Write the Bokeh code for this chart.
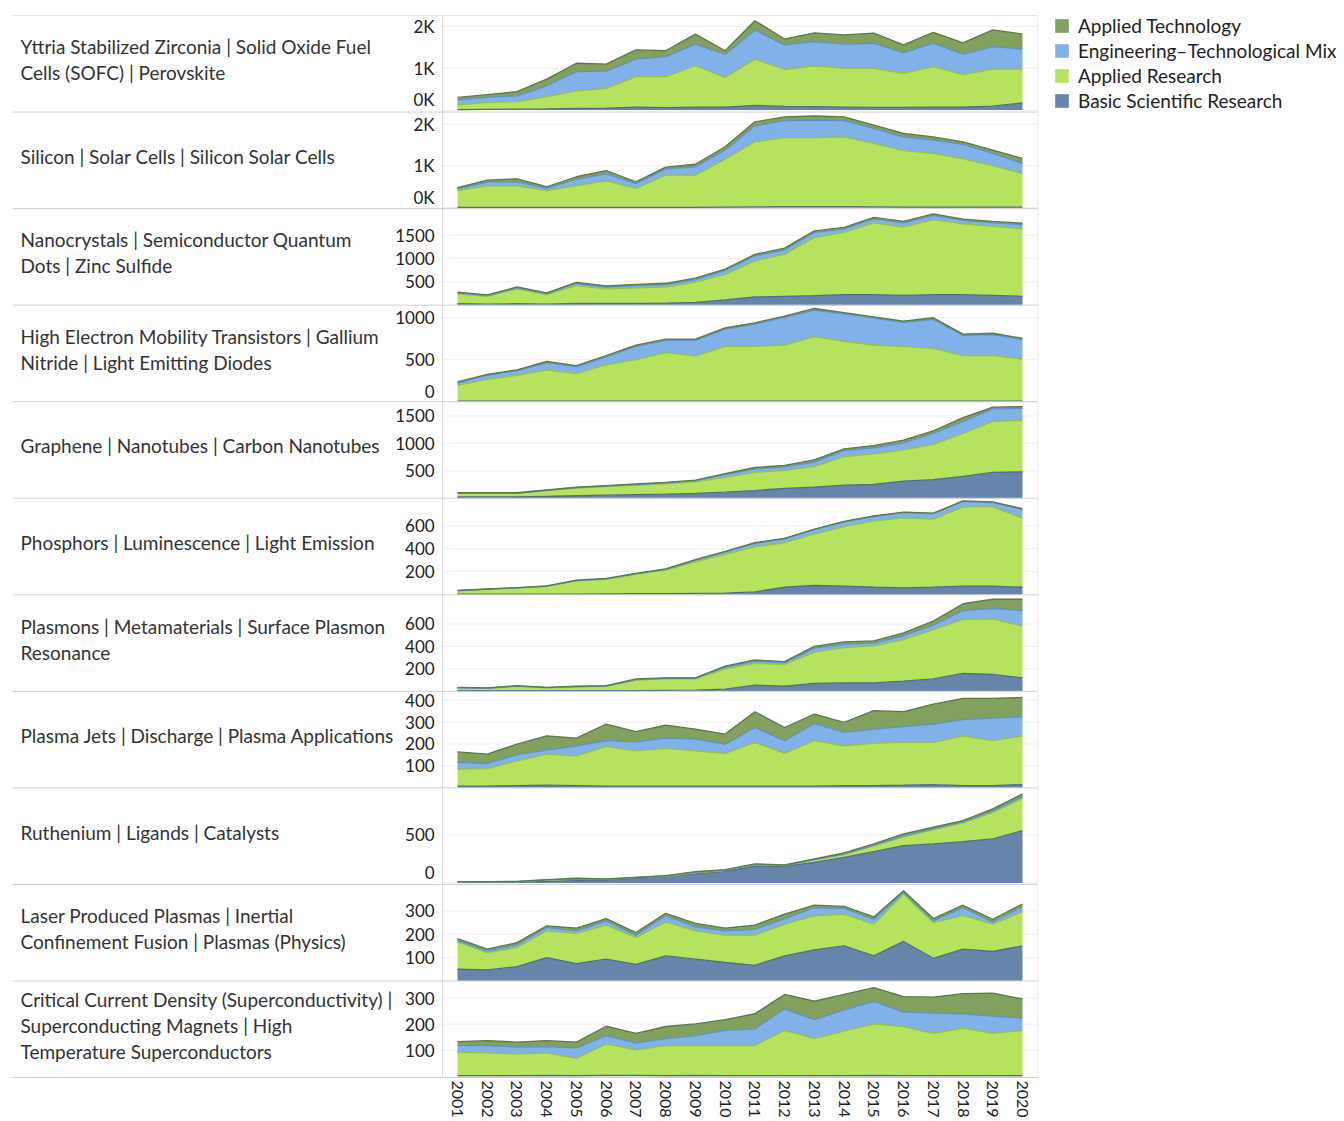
from bokeh.plotting import figure
from bokeh.layouts import row
from bokeh.models import (ColumnDataSource, Range1d, LinearAxis, FixedTicker, Label, Span,
                          Legend, LegendItem)
from bokeh.embed import file_html
from bokeh.resources import INLINE

# ---------------- data ----------------
YEARS = [2001, 2002, 2003, 2004, 2005, 2006, 2007, 2008, 2009, 2010,
         2011, 2012, 2013, 2014, 2015, 2016, 2017, 2018, 2019, 2020]

TOPICS = [
    "Yttria Stabilized Zirconia | Solid Oxide Fuel\nCells (SOFC) | Perovskite",
    "Silicon | Solar Cells | Silicon Solar Cells",
    "Nanocrystals | Semiconductor Quantum\nDots | Zinc Sulfide",
    "High Electron Mobility Transistors | Gallium\nNitride | Light Emitting Diodes",
    "Graphene | Nanotubes | Carbon Nanotubes",
    "Phosphors | Luminescence | Light Emission",
    "Plasmons | Metamaterials | Surface Plasmon\nResonance",
    "Plasma Jets | Discharge | Plasma Applications",
    "Ruthenium | Ligands | Catalysts",
    "Laser Produced Plasmas | Inertial\nConfinement Fusion | Plasmas (Physics)",
    "Critical Current Density (Superconductivity) |\nSuperconducting Magnets | High\nTemperature Superconductors",
]

SERIES = ["Basic Scientific Research", "Applied Research",
          "Engineering\u2013Technological Mix", "Applied Technology"]

yttria_basic = [10, 15, 20, 25, 35, 45, 70, 55, 65, 65, 110, 85, 80, 70, 60, 60, 65, 65, 90, 170]
yttria_research = [110, 165, 180, 295, 425, 475, 730, 745, 995, 715, 1110, 885, 980, 930, 940, 820, 975, 785, 890, 810]
yttria_mix = [120, 120, 140, 260, 460, 410, 420, 480, 520, 550, 700, 590, 580, 580, 600, 490, 560, 490, 540, 480]
yttria_tech = [60, 70, 100, 160, 200, 170, 220, 140, 240, 90, 220, 140, 210, 220, 240, 190, 260, 270, 400, 360]

silicon_basic = [5, 5, 5, 5, 5, 5, 5, 5, 5, 10, 15, 20, 20, 20, 15, 10, 10, 10, 10, 10]
silicon_research = [405, 515, 515, 405, 525, 635, 455, 775, 775, 1150, 1565, 1660, 1660, 1680, 1525, 1360, 1290, 1160, 1000, 810]
silicon_mix = [40, 90, 100, 50, 150, 170, 120, 150, 200, 220, 380, 410, 420, 390, 360, 330, 320, 350, 290, 240]
silicon_tech = [30, 50, 70, 40, 60, 80, 40, 40, 60, 80, 100, 90, 100, 90, 80, 80, 80, 60, 80, 120]

nano_basic = [30, 20, 30, 20, 35, 35, 40, 45, 60, 115, 175, 190, 205, 225, 225, 210, 225, 225, 210, 190]
nano_research = [215, 170, 320, 205, 385, 315, 330, 345, 435, 545, 775, 905, 1250, 1340, 1545, 1465, 1615, 1520, 1485, 1450]
nano_mix = [15, 15, 20, 20, 45, 40, 50, 50, 55, 85, 110, 95, 110, 75, 85, 95, 90, 75, 75, 90]
nano_tech = [20, 15, 20, 20, 25, 25, 25, 30, 30, 30, 30, 35, 30, 30, 30, 30, 30, 30, 30, 30]

hemt_basic = [5, 5, 5, 5, 5, 5, 5, 5, 5, 5, 5, 5, 5, 5, 5, 5, 5, 5, 5, 5]
hemt_research = [190, 260, 310, 375, 330, 435, 495, 580, 540, 655, 655, 670, 770, 715, 670, 650, 630, 545, 545, 505]
hemt_mix = [30, 50, 55, 85, 80, 95, 160, 145, 185, 205, 265, 330, 315, 325, 320, 290, 345, 240, 250, 230]
hemt_tech = [10, 10, 10, 15, 15, 15, 15, 15, 15, 15, 15, 15, 20, 15, 15, 15, 20, 15, 15, 15]

graphene_basic = [25, 25, 25, 35, 45, 55, 65, 75, 90, 110, 140, 180, 200, 240, 250, 310, 340, 400, 470, 480]
graphene_research = [65, 65, 65, 105, 140, 155, 170, 185, 210, 270, 330, 330, 380, 520, 560, 570, 640, 780, 930, 940]
graphene_mix = [5, 5, 5, 5, 10, 15, 15, 20, 20, 50, 60, 60, 80, 110, 110, 130, 200, 220, 230, 220]
graphene_tech = [5, 5, 5, 5, 5, 5, 10, 10, 10, 20, 30, 30, 40, 30, 40, 50, 50, 70, 30, 30]

phosphor_basic = [5, 5, 5, 5, 5, 8, 10, 10, 12, 15, 25, 65, 80, 75, 65, 60, 65, 75, 75, 65]
phosphor_research = [30, 42, 53, 67, 115, 126, 166, 203, 273, 335, 390, 385, 445, 515, 575, 605, 590, 685, 685, 600]
phosphor_mix = [1, 1, 2, 2, 3, 4, 6, 7, 13, 21, 30, 33, 38, 40, 37, 45, 46, 47, 38, 74]
phosphor_tech = [2, 2, 2, 2, 3, 3, 3, 4, 5, 5, 5, 5, 5, 5, 5, 5, 5, 5, 5, 5]

plasmon_basic = [5, 5, 5, 5, 5, 5, 5, 8, 10, 20, 55, 45, 70, 75, 75, 90, 110, 160, 150, 120]
plasmon_research = [25, 21, 40, 26, 35, 40, 95, 102, 100, 180, 195, 195, 280, 315, 330, 370, 440, 480, 495, 460]
plasmon_mix = [2, 2, 2, 2, 2, 2, 5, 5, 5, 15, 18, 15, 35, 30, 25, 35, 40, 80, 95, 140]
plasmon_tech = [3, 2, 3, 2, 3, 3, 5, 5, 5, 10, 12, 10, 15, 20, 20, 25, 35, 60, 80, 100]

jets_basic = [8, 8, 10, 12, 10, 8, 8, 8, 8, 8, 8, 8, 8, 10, 10, 12, 15, 10, 10, 15]
jets_research = [77, 80, 113, 142, 136, 181, 161, 172, 161, 149, 199, 150, 207, 182, 194, 195, 192, 227, 205, 222]
jets_mix = [31, 23, 28, 18, 46, 26, 41, 47, 53, 42, 68, 57, 79, 61, 64, 72, 84, 74, 103, 87]
jets_tech = [48, 43, 48, 65, 35, 76, 46, 59, 46, 46, 72, 60, 42, 45, 84, 68, 91, 97, 90, 88]

ruthenium_basic = [7, 7, 8, 17, 24, 31, 49, 66, 94, 122, 174, 174, 215, 267, 326, 389, 406, 431, 458, 545]
ruthenium_research = [3, 5, 6, 13, 16, 6, 6, 4, 11, 8, 16, 6, 25, 28, 59, 91, 149, 194, 277, 335]
ruthenium_mix = [1, 1, 1, 2, 3, 3, 2, 3, 5, 3, 3, 3, 3, 5, 8, 10, 10, 10, 15, 20]
ruthenium_tech = [3, 2, 2, 3, 6, 2, 2, 3, 8, 6, 5, 5, 7, 12, 13, 20, 15, 14, 21, 27]

laser_basic = [50, 47, 61, 100, 74, 93, 71, 107, 93, 79, 67, 107, 133, 150, 107, 169, 97, 136, 126, 150]
laser_research = [117, 74, 82, 114, 130, 146, 115, 146, 121, 117, 129, 136, 146, 136, 136, 202, 153, 145, 117, 146]
laser_mix = [7, 8, 11, 15, 10, 18, 10, 26, 17, 18, 25, 24, 35, 24, 21, 8, 7, 33, 10, 21]
laser_tech = [7, 7, 10, 7, 12, 10, 11, 10, 15, 12, 18, 19, 10, 9, 10, 7, 10, 10, 11, 12]

supercond_basic = [2, 2, 2, 3, 2, 3, 3, 2, 3, 2, 2, 2, 2, 2, 3, 2, 2, 2, 2, 2]
supercond_research = [90, 88, 84, 87, 67, 121, 98, 116, 115, 116, 116, 174, 142, 171, 198, 189, 163, 183, 163, 174]
supercond_mix = [26, 28, 26, 24, 40, 32, 27, 26, 38, 58, 64, 83, 73, 82, 87, 55, 77, 55, 66, 47]
supercond_tech = [15, 19, 19, 23, 22, 36, 37, 47, 45, 41, 58, 55, 71, 59, 52, 60, 62, 77, 88, 74]

ROWS = [
    (yttria_basic, yttria_research, yttria_mix, yttria_tech),
    (silicon_basic, silicon_research, silicon_mix, silicon_tech),
    (nano_basic, nano_research, nano_mix, nano_tech),
    (hemt_basic, hemt_research, hemt_mix, hemt_tech),
    (graphene_basic, graphene_research, graphene_mix, graphene_tech),
    (phosphor_basic, phosphor_research, phosphor_mix, phosphor_tech),
    (plasmon_basic, plasmon_research, plasmon_mix, plasmon_tech),
    (jets_basic, jets_research, jets_mix, jets_tech),
    (ruthenium_basic, ruthenium_research, ruthenium_mix, ruthenium_tech),
    (laser_basic, laser_research, laser_mix, laser_tech),
    (supercond_basic, supercond_research, supercond_mix, supercond_tech),
]

# axis extents and ticks of each row
Y_MIN = [-50, -25, 0, 0, 0, 0, 0, 0, -15, 0, -5]
Y_MAX = [2265, 2295, 2075, 1150, 1760, 835, 860, 440, 990, 413, 366]
TICKS = [[0, 1000, 2000], [0, 1000, 2000], [500, 1000, 1500], [0, 500, 1000],
         [500, 1000, 1500], [200, 400, 600], [200, 400, 600], [100, 200, 300, 400],
         [0, 500], [100, 200, 300], [100, 200, 300]]
K_LABELS = {0: "0K", 1000: "1K", 2000: "2K"}
K_ROWS = [0, 1]

# ---------------- style / layout ----------------
FILL = ["#6784ab", "#b5e35d", "#80b1e8", "#82a05e"]
EDGE = ["#4f6c93", "#93c23e", "#5f90c9", "#5d7a42"]
FONT = "Lato"
STACK = ["basic", "research", "mix", "tech"]

N = len(TOPICS)
FRAME_W, FRAME_H = 1025, 1064
LEFT_PAD, RIGHT_PAD = 445, 15
PPY = (FRAME_W - LEFT_PAD - RIGHT_PAD) / (len(YEARS) - 1)
X_START = YEARS[0] - LEFT_PAD / PPY
X_END = YEARS[-1] + RIGHT_PAD / PPY
PLOT_X0 = YEARS[0] - 0.5
PLOT_X1 = YEARS[-1] + 0.5
ZERO_LIFT_PX = 10

BL, BR, BT, BB = 12, 2, 15, 41
TOTAL_W, TOTAL_H = 1340, BT + FRAME_H + BB
MAIN_W = BL + FRAME_W + BR

p = figure(width=MAIN_W, height=TOTAL_H,
           x_range=Range1d(X_START, X_END), y_range=Range1d(0, N),
           y_axis_type=None, output_backend="svg", toolbar_location=None,
           min_border_left=BL, min_border_right=BR, min_border_top=BT,
           min_border_bottom=BB)
p.outline_line_color = None
p.xgrid.visible = False
p.background_fill_color = "white"

extra = {}
for k in range(N):
    span = Y_MAX[k] - Y_MIN[k]
    start = Y_MIN[k] - (N - 1 - k) * span
    extra[f"row{k}"] = Range1d(start, start + N * span)
    # same scale, shifted so the bottom "0" label sits just above the baseline
    lift = ZERO_LIFT_PX * N * span / FRAME_H
    extra[f"row{k}z"] = Range1d(start - lift, start + N * span - lift)
p.extra_y_ranges = extra

for k in range(N):
    rn = f"row{k}"
    basic, research, mix, tech = ROWS[k]
    src = ColumnDataSource(dict(year=YEARS, basic=basic, research=research, mix=mix, tech=tech))

    # faint gridlines inside the plot area
    p.segment(x0=PLOT_X0, x1=PLOT_X1, y0=TICKS[k], y1=TICKS[k],
              line_color="#efefef", line_width=1, y_range_name=rn)

    p.varea_stack(STACK, x="year", source=src, fill_color=FILL, y_range_name=rn)
    p.vline_stack(STACK, x="year", source=src, line_color=EDGE, line_width=1.3,
                  y_range_name=rn)

    overrides = {t: K_LABELS[t] for t in TICKS[k]} if k in K_ROWS else {}
    main_ticks = [t for t in TICKS[k] if t != 0]
    axis_style = dict(major_tick_line_color=None, minor_tick_line_color=None,
                      major_tick_out=0, major_tick_in=0,
                      major_label_text_font=FONT, major_label_text_font_size="17px",
                      major_label_text_color="#222222", major_label_standoff=8,
                      fixed_location=PLOT_X0, major_label_overrides=overrides)
    ax = LinearAxis(y_range_name=rn, ticker=FixedTicker(ticks=main_ticks),
                    bounds=(Y_MIN[k], Y_MAX[k]), axis_line_color="#dcdcdc", **axis_style)
    p.add_layout(ax, "left")
    if 0 in TICKS[k]:
        ax0 = LinearAxis(y_range_name=rn + "z", ticker=FixedTicker(ticks=[0]),
                         axis_line_color=None, **axis_style)
        p.add_layout(ax0, "left")

    p.add_layout(Label(x=8, x_units="screen", y=(Y_MIN[k] + Y_MAX[k]) / 2,
                       y_range_name=rn, y_offset=4, text=TOPICS[k],
                       text_font=FONT, text_font_size="19px", text_color="#333333",
                       text_align="left", text_baseline="middle",
                       text_line_height=1.13))

# row separators and right border
for i in range(N + 1):
    p.add_layout(Span(location=i, dimension="width", line_color="#cfcfcf", line_width=1))
p.add_layout(Span(location=X_END, dimension="height", line_color="#dcdcdc", line_width=1))

# x axis (years)
xa = p.xaxis[0]
xa.ticker = FixedTicker(ticks=YEARS)
xa.major_label_orientation = "vertical"
xa.axis_line_color = "#cfcfcf"
xa.major_tick_line_color = None
xa.minor_tick_line_color = None
xa.major_tick_out = 0
xa.major_tick_in = 0
xa.major_label_text_font = FONT
xa.major_label_text_font_size = "16px"
xa.major_label_text_color = "#222222"
xa.major_label_standoff = 3

# ---------------- legend panel (separate figure to the right) ----------------
# (its frame is aligned with the main frame: top at BT, height FRAME_H)
LEG_W = TOTAL_W - MAIN_W
lf = figure(width=LEG_W, height=TOTAL_H, x_range=Range1d(0, 1), y_range=Range1d(0, 1),
            x_axis_type=None, y_axis_type=None, output_backend="svg",
            toolbar_location=None, min_border_left=0, min_border_right=0,
            min_border_top=0, min_border_bottom=0)
lf.outline_line_color = None
lf.xgrid.visible = False
lf.ygrid.visible = False
# legend swatches: one-square proxies placed outside the visible range
proxies = [lf.quad(left=[5], right=[6], bottom=[5], top=[6], fill_color=c, line_color=None)
           for c in FILL]

ITEM_H = 25
LEG_H = 4 * ITEM_H
items = [LegendItem(label=SERIES[i], renderers=[proxies[i]]) for i in [3, 2, 1, 0]]
legend = Legend(items=items, location=(1053 - MAIN_W, FRAME_H - LEG_H),
                orientation="vertical", glyph_width=17, glyph_height=17,
                label_height=ITEM_H, spacing=0, padding=0, margin=0, label_standoff=8,
                label_text_font=FONT, label_text_font_size="19px",
                label_text_color="#222222", border_line_color=None,
                background_fill_alpha=0)
lf.add_layout(legend)

layout = row(p, lf)

with open("out.html", "w", encoding="utf-8") as f:
    f.write(file_html(layout, INLINE))
